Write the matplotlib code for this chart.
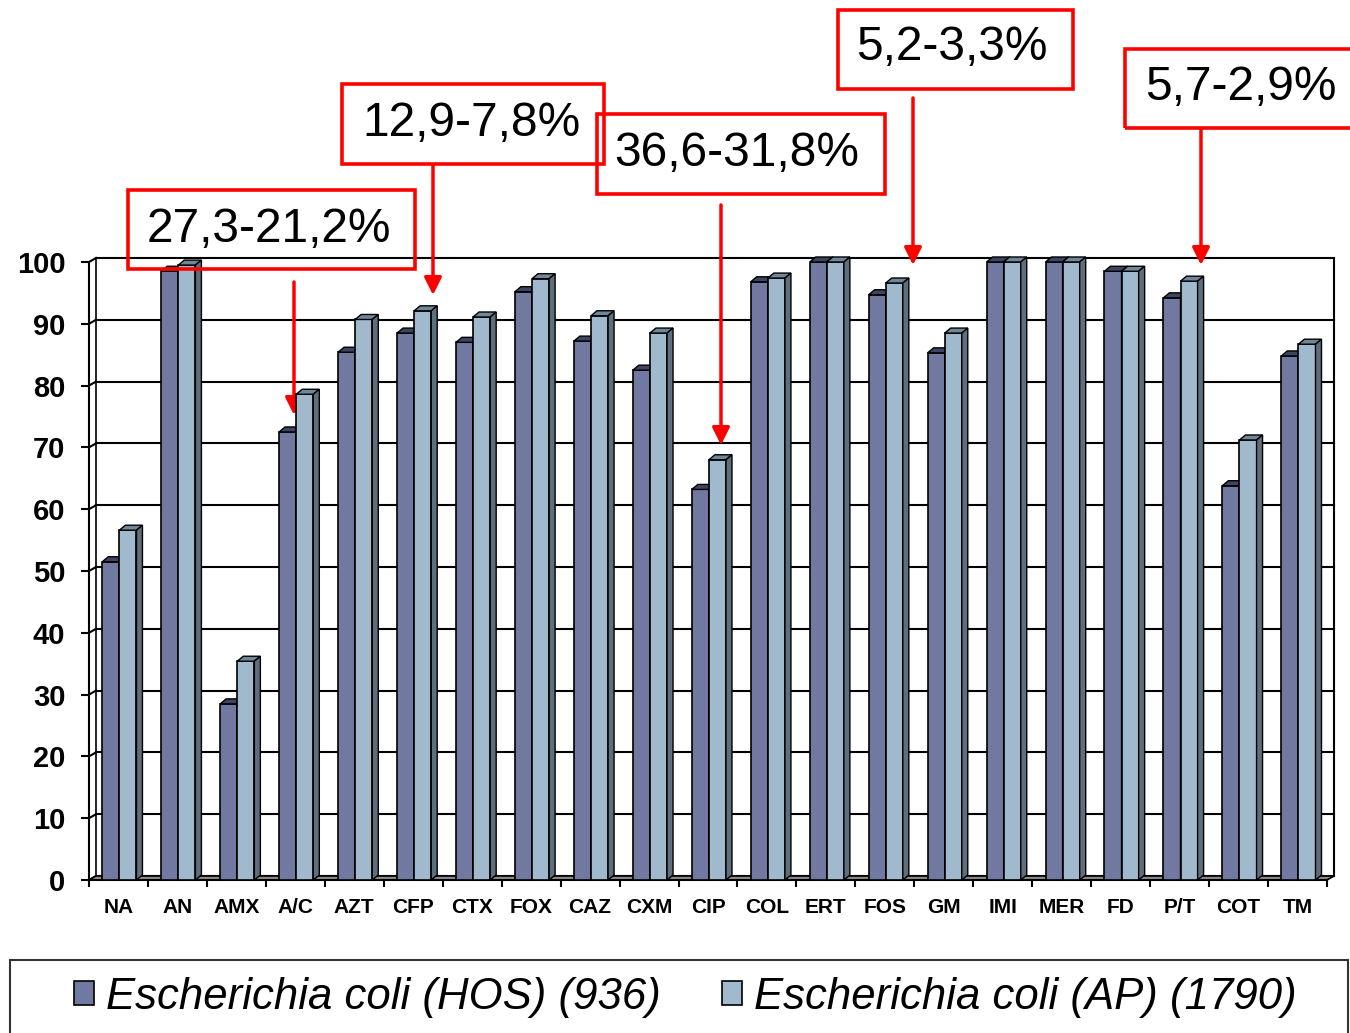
import numpy as np
import matplotlib.pyplot as plt
from matplotlib.patches import Polygon, Rectangle

plt.rcParams['font.family'] = ['Liberation Sans', 'DejaVu Sans']

# Datos
antibioticos = ['NA', 'AN', 'AMX', 'A/C', 'AZT', 'CFP', 'CTX', 'FOX', 'CAZ', 'CXM', 'CIP',
                'COL', 'ERT', 'FOS', 'GM', 'IMI', 'MER', 'FD', 'P/T', 'COT', 'TM']
hos = [51.5, 98.5, 28.5, 72.5, 85.4, 88.5, 87.0, 95.2, 87.2, 82.5, 63.2,
       96.8, 100, 94.7, 85.3, 100, 100, 98.5, 94.2, 63.8, 84.8]
ap = [56.6, 99.5, 35.4, 78.6, 90.7, 92.1, 91.1, 97.3, 91.3, 88.5, 68.0,
      97.4, 100, 96.6, 88.5, 100, 100, 98.5, 96.9, 71.2, 86.7]
series = ['Escherichia coli (HOS) (936)', 'Escherichia coli (AP) (1790)']
yticks = np.arange(0, 101, 10)

# Anotaciones (texto)
notas = ['27,3-21,2%', '12,9-7,8%', '36,6-31,8%', '5,2-3,3%', '5,7-2,9%']

W, H = 1350, 1033
fig = plt.figure(figsize=(W / 100, H / 100), dpi=100)
ax = fig.add_axes([89 / W, 1 - 880 / H, (1327 - 89) / W, (880 - 262) / H])
n = len(antibioticos)
ax.set_xlim(-0.5, n - 0.5)
ax.set_ylim(0, 100)

# pixeles -> unidades de datos
px_x = (1327 - 89) / n
px_y = (880 - 262) / 100
dxw, dyw = 7 / px_x, 4 / px_y      # profundidad de las paredes
dxb, dyb = 6 / px_x, 5 / px_y      # profundidad de las barras

x0, x1 = -0.5, n - 0.5
# pared del fondo: lineas de cuadricula
for y in yticks:
    ax.plot([x0 + dxw, x1 + dxw], [y + dyw, y + dyw], color='black', lw=1.5, zorder=1, clip_on=False)
    ax.plot([x0, x0 + dxw], [y, y + dyw], color='black', lw=1.5, zorder=1, clip_on=False)
ax.plot([x1 + dxw, x1 + dxw], [dyw, 100 + dyw], color='black', lw=1.5, zorder=1, clip_on=False)
ax.plot([x0 + dxw, x0 + dxw], [dyw, 100 + dyw], color='black', lw=1.2, zorder=1, clip_on=False)

# suelo
ax.add_patch(Polygon([[x0, 0], [x1, 0], [x1 + dxw, dyw], [x0 + dxw, dyw]],
                     closed=True, facecolor='#8a8a8a', edgecolor='black', lw=1.2,
                     zorder=2, clip_on=False))

x = np.arange(n)
w = 0.29
b1 = ax.bar(x - 0.13, hos, w, color='#7179a0', edgecolor='black', lw=1.2, zorder=3, label=series[0])
b2 = ax.bar(x + 0.16, ap, w, color='#a0b9cd', edgecolor='black', lw=1.2, zorder=3.5, label=series[1])


def caras(barras, c_top, c_side, z):
    for p in barras:
        bx, bw, bh = p.get_x(), p.get_width(), p.get_height()
        top = [[bx, bh], [bx + bw, bh], [bx + bw + dxb, bh + dyb], [bx + dxb, bh + dyb]]
        side = [[bx + bw, 0], [bx + bw + dxb, dyb], [bx + bw + dxb, bh + dyb], [bx + bw, bh]]
        ax.add_patch(Polygon(top, closed=True, facecolor=c_top, edgecolor='black', lw=1.0,
                             zorder=z, clip_on=False))
        ax.add_patch(Polygon(side, closed=True, facecolor=c_side, edgecolor='black', lw=1.0,
                             zorder=z, clip_on=False))


caras(b1, '#3e4562', '#4a5070', 3.2)
caras(b2, '#6f8798', '#5d6e7c', 3.6)

# ejes
for s in ['top', 'right']:
    ax.spines[s].set_visible(False)
ax.spines['left'].set_linewidth(1.5)
ax.spines['bottom'].set_linewidth(1.5)
ax.set_yticks(yticks)
ax.set_yticklabels([str(v) for v in yticks], fontsize=21, fontweight='bold')
ax.tick_params(axis='y', direction='out', length=6, width=1.5, pad=11)
ax.set_xticks(x)
ax.set_xticklabels(antibioticos, fontsize=15, fontweight='bold')
ax.set_xticks(np.arange(-0.5, n), minor=True)
ax.tick_params(axis='x', which='major', length=0, pad=13)
ax.tick_params(axis='x', which='minor', direction='out', length=5, width=1.5)

# cajas rojas y flechas (pixeles de la figura)
cajas = [(128, 190, 415, 269), (342, 84, 604, 164), (597, 114, 885, 194),
         (838, 10, 1073, 89), (1125, 49, 1362, 128)]
centros = [(269, 230), (472, 124), (737, 153), (952, 48), (1241, 88)]
flechas = [(294, 282, 415), (433, 165, 295), (721, 205, 445), (913, 98, 265), (1201, 129, 265)]
for nota, (l, t, r, b), (cx, cy), (fx, fy0, fy1) in zip(notas, cajas, centros, flechas):
    fig.patches.append(Rectangle((l / W, 1 - b / H), (r - l) / W, (b - t) / H,
                                 transform=fig.transFigure, fill=False,
                                 edgecolor='#ff0000', lw=2.6))
    fig.text(cx / W, 1 - cy / H, nota, fontsize=34.5, ha='center', va='center', color='black')
    ax.annotate('', xy=(fx, H - fy1), xytext=(fx, H - fy0),
                xycoords='figure pixels', textcoords='figure pixels',
                arrowprops=dict(arrowstyle='-|>', color='#ff0000', lw=2.5,
                                mutation_scale=26, shrinkA=0, shrinkB=0))

# leyenda
fig.patches.append(Rectangle((10 / W, -0.01), (1348 - 10) / W, (1033 - 960) / H + 0.01,
                             transform=fig.transFigure, fill=False, edgecolor='#333333', lw=1.5))
fig.legend(handles=[b1, b2], labels=series, loc='center', bbox_to_anchor=(685 / W, 1 - 997 / H),
           ncol=2, frameon=False, prop={'style': 'italic', 'size': 31.5},
           handlelength=0.46, handleheight=0.46, handletextpad=0.27, columnspacing=1.4)

fig.savefig('out.png', dpi=100)
